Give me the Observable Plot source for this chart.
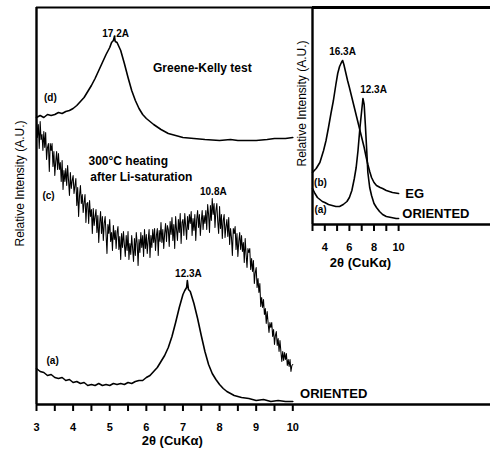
<!DOCTYPE html>
<html><head><meta charset="utf-8">
<script src="https://cdn.jsdelivr.net/npm/d3@7"></script>
<script src="https://cdn.jsdelivr.net/npm/@observablehq/plot@0.6"></script>
<style>
body{margin:0;background:#fff;}
#wrap{position:relative;width:490px;height:456px;}
#wrap svg{position:absolute;top:0;}
</style></head><body><div id="wrap"></div>
<script>
// ---------- main panel data ----------
const mainTicks = [3,3.5,4,4.5,5,5.5,6,6.5,7,7.5,8,8.5,9,9.5,10];
const mainTickLabels = [3,4,5,6,7,8,9,10];

// (d) Greene-Kelly test
const dX = [3.0,3.1,3.2,3.3,3.4,3.5,3.6,3.7,3.8,3.9,4.0,4.1,4.2,4.3,4.4,4.5,4.6,4.7,4.8,4.9,5.0,5.05,5.1,5.13,5.15,5.2,5.3,5.4,5.5,5.6,5.7,5.8,5.9,6.0,6.2,6.4,6.6,6.8,7.0,7.3,7.6,8.0,8.3,8.5,8.8,9.0,9.3,9.5,9.8,10.0];
const dY = [287,289,287,290,289,290,292,291,293,294,296,299,303,307,313,319,326,334,342,350,357,362,364,368,363,362,354,341,327,314,304,296,290,286,280,275,271,269,267,266,265,264,265,264,264,264,265,266,266,267];

// (c) 300°C heating after Li-saturation (sampled every 0.025 from 3.000 to 10.000)
const cY = [
  287,267,280,256,283,265,270,254, 273,257,272,245,257,261,233,261,
  254,261,238,253,229,243,253,235, 251,235,242,223,244,215,234,223,
  236,219,239,224,209,232,216,224, 229,211,219,226,199,217,188,209,
  219,201,210,192,202,210,182,201, 202,181,204,188,195,171,196,179,
  188,195,172,189,162,181,193,171, 188,164,181,188,170,151,180,171,
  185,163,172,154,179,165,174,156, 172,178,155,168,145,171,157,173,
  160,148,169,154,173,145,161,150, 169,156,143,166,149,172,161,139,
  165,152,172,157,169,148,175,156, 170,151,164,175,147,169,157,175,
  162,176,154,169,176,149,174,163, 182,162,175,156,171,181,163,179,
  175,158,183,170,187,164,180,156, 188,175,164,185,172,191,161,182,
  185,169,191,178,165,188,175,190, 181,193,169,186,174,190,164,185,
  194,177,190,169,183,194,175,189, 181,194,175,200,190,172,199,184,
  206,190,201,177,194,201,183,171, 198,176,190,166,184,190,167,178,
  185,168,187,160,176,167,149,176, 171,178,155,171,148,163,172,155,
  169,153,162,142,166,150,137,156, 152,156,135,146,133,144,121,132,
  137,117,126,112,121,98,107,97, 105,90,96,81,93,82,72,82,
  77,82,68,75,60,69,73,59, 66,53,64,53,43,53,44,52,
  45,51,39,45,38,45,33,39, 40];
const cX = cY.map((_, i) => +(3 + i * 0.025).toFixed(3));

// (a) oriented
const aX = [3.0,3.1,3.2,3.3,3.4,3.5,3.6,3.7,3.8,3.9,4.0,4.1,4.2,4.3,4.4,4.5,4.6,4.7,4.8,4.9,5.0,5.1,5.2,5.3,5.4,5.5,5.6,5.7,5.8,5.9,6.0,6.1,6.2,6.3,6.4,6.5,6.6,6.7,6.8,6.9,7.0,7.05,7.1,7.12,7.15,7.2,7.3,7.4,7.5,7.6,7.7,7.8,7.9,8.0,8.1,8.2,8.3,8.4,8.5,8.6,8.8,9.0,9.2,9.4,9.6,9.8,10.0];
const aY = [36,33,32,29,30,27,26,27,24,25,22,23,21,22,19,20,19,21,19,20,19,21,20,21,20,22,21,23,24,24,27,29,33,37,43,49,57,68,82,97,110,114,117,124,115,113,101,86,69,53,40,31,25,20,16,13,11,9,8,7,6,4,5,3,4,3,3];

const mainMidLabels = [
  {t:"17.2A", x:5.16, y:371, s:10},
  {t:"Greene-Kelly test", x:7.53, y:336, s:12},
  {t:"(d)", x:3.38, y:307, s:10},
  {t:"(c)", x:3.33, y:209, s:10},
  {t:"10.8A", x:7.83, y:213, s:10},
  {t:"12.3A", x:7.15, y:131, s:10},
  {t:"(a)", x:3.44, y:44, s:10}
];
const mainStartLabels = [
  {t:"300°C heating", x:4.42, y:243, s:12},
  {t:"after Li-saturation", x:4.47, y:227, s:12},
  {t:"ORIENTED", x:10.2, y:11, s:13}
];

// ---------- inset data ----------
const insetTicks = [3,4,5,6,7,8,9,10];
const insetTickLabels = [4,6,8,10];
const ebX = [3.0,3.3,3.6,3.9,4.1,4.3,4.5,4.7,4.9,5.05,5.2,5.35,5.45,5.55,5.7,5.85,6.0,6.2,6.4,6.6,6.8,7.0,7.2,7.35,7.5,7.65,7.8,8.0,8.2,8.5,8.7,9.0,9.5,10.0];
const ebY = [52,56,62,74,84,97,111,124,140,151,158,162,164,160,152,144,137,127,117,107,97,87,77,68,60,53,47,42,39,37,36,34,32,31];
const oaX = [3.0,3.2,3.4,3.6,3.8,4.0,4.3,4.6,4.9,5.2,5.5,5.8,6.0,6.2,6.4,6.55,6.7,6.85,7.0,7.1,7.2,7.3,7.4,7.5,7.65,7.8,8.0,8.2,8.45,8.7,9.0,9.4,9.8,10.0];
const oaY = [36,31,27,25,23,22,20,19,18,18,20,23,27,34,46,57,74,96,114,126,120,99,76,52,37,29,21,17,13,10,8,7,6,6];
const insetMidLabels = [
  {t:"16.3A", x:5.44, y:173, s:10},
  {t:"12.3A", x:7.96, y:135, s:10},
  {t:"(b)", x:3.65, y:42, s:10},
  {t:"(a)", x:3.65, y:15, s:10}
];
const insetStartLabels = [
  {t:"EG", x:10.55, y:31, s:13},
  {t:"ORIENTED", x:10.3, y:11, s:13}
];

const FONT = "'Liberation Sans', Arial, sans-serif";
const zip = (xs, ys) => xs.map((x, i) => ({x, y: ys[i]}));
const lineOpts = {x: "x", y: "y", stroke: "#000", strokeWidth: 1.6, curve: "linear"};
const labelOpts = {x: "x", y: "y", text: "t", fontSize: "s", fontWeight: "bold", fill: "#000"};

const main = Plot.plot({
  width: 490, height: 456,
  marginLeft: 36, marginRight: 0, marginTop: 7, marginBottom: 52,
  style: {background: "transparent", fontFamily: FONT, color: "#000"},
  x: {domain: [3, 15.4], axis: null},
  y: {domain: [0, 397], axis: null},
  marks: [
    Plot.ruleY([0], {strokeWidth: 2.4}),
    Plot.ruleY([397], {strokeWidth: 2}),
    Plot.ruleX([3], {strokeWidth: 2.4}),
    Plot.axisX({ticks: mainTicks, tickSize: 7, tickPadding: 12, strokeWidth: 2,
      tickFormat: d => mainTickLabels.includes(d) ? String(d) : "",
      fontSize: 11, fontWeight: "bold", label: null}),
    Plot.text([{x: 6.71}], {x: "x", frameAnchor: "bottom", dy: 40, text: () => "2θ (CuKα)",
      fontSize: 13, fontWeight: "bold"}),
    Plot.text([{y: 221}], {y: "y", frameAnchor: "left", dx: -16, rotate: -90, textAnchor: "middle",
      text: () => "Relative Intensity (A.U.)", fontSize: 12}),
    Plot.line(zip(dX, dY), lineOpts),
    Plot.line(zip(cX, cY), {...lineOpts, strokeWidth: 1.05}),
    Plot.line(zip(aX, aY), lineOpts),
    Plot.text(mainMidLabels, {...labelOpts, textAnchor: "middle"}),
    Plot.text(mainStartLabels, {...labelOpts, textAnchor: "start"})
  ]
});

const inset = Plot.plot({
  width: 200, height: 270,
  marginLeft: 22, marginRight: 0, marginTop: 7, marginBottom: 46,
  style: {background: "transparent", fontFamily: FONT, color: "#000"},
  x: {domain: [3, 17.47], axis: null},
  y: {domain: [0, 217], axis: null},
  marks: [
    Plot.ruleY([0], {strokeWidth: 2.4}),
    Plot.ruleY([217], {strokeWidth: 3}),
    Plot.ruleX([3], {strokeWidth: 2.4}),
    Plot.axisX({ticks: insetTicks, tickSize: 7, tickPadding: 12, strokeWidth: 2,
      tickFormat: d => insetTickLabels.includes(d) ? String(d) : "",
      fontSize: 11, fontWeight: "bold", label: null}),
    Plot.text([{x: 6.9}], {x: "x", frameAnchor: "bottom", dy: 42, text: () => "2θ (CuKα)",
      fontSize: 13, fontWeight: "bold"}),
    Plot.text([{y: 121}], {y: "y", frameAnchor: "left", dx: -10, rotate: -90, textAnchor: "middle",
      text: () => "Relative Intensity (A.U.)", fontSize: 12}),
    Plot.line(zip(ebX, ebY), lineOpts),
    Plot.line(zip(oaX, oaY), lineOpts),
    Plot.text(insetMidLabels, {...labelOpts, textAnchor: "middle"}),
    Plot.text(insetStartLabels, {...labelOpts, textAnchor: "start"})
  ]
});

const wrap = document.getElementById("wrap");
main.style.left = "0px";
inset.style.left = "290px";
wrap.appendChild(main);
wrap.appendChild(inset);
</script>
</body></html>
